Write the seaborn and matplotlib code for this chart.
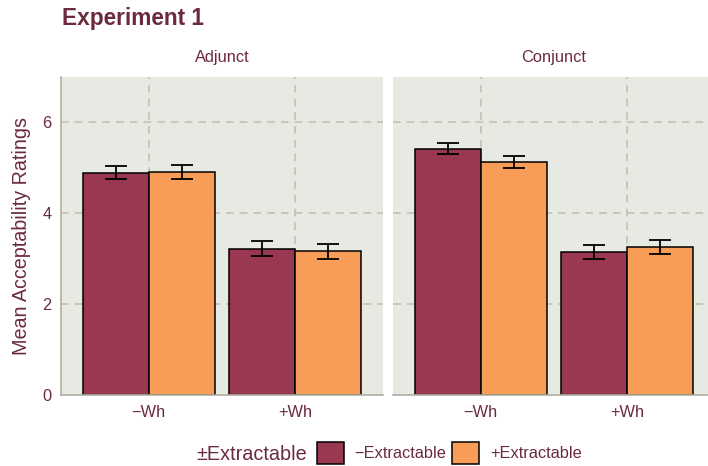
import numpy as np
import pandas as pd
import matplotlib
matplotlib.use('Agg')
import matplotlib.pyplot as plt
from matplotlib.patches import Patch
import seaborn as sns

# data
constructs = ['Adjunct', 'Conjunct']
wh_levels = ['\u2212Wh', '+Wh']
ext_levels = ['\u2212Extractable', '+Extractable']
means_adjunct = [4.89, 4.91, 3.22, 3.16]   # (-Wh,-Ext), (-Wh,+Ext), (+Wh,-Ext), (+Wh,+Ext)
means_conjunct = [5.42, 5.13, 3.15, 3.26]
se_adjunct = [0.14, 0.15, 0.17, 0.16]
se_conjunct = [0.12, 0.13, 0.15, 0.15]

rows = []
for c, m, s in [('Adjunct', means_adjunct, se_adjunct), ('Conjunct', means_conjunct, se_conjunct)]:
    k = 0
    for w in wh_levels:
        for e in ext_levels:
            rows.append({'construct': c, 'wh': w, 'extract': e, 'mean': m[k], 'se': s[k]})
            k += 1
df = pd.DataFrame(rows)

maroon = '#6B2B3D'
grid_col = '#BFBDB1'
axis_col = '#B3B0A3'
bg = '#E7E9E3'
palette = {'\u2212Extractable': '#993850', '+Extractable': '#F89D58'}

sns.set_style('white')
plt.rcParams['font.family'] = ['Liberation Sans', 'DejaVu Sans']

W, H = 708, 466
fig = plt.figure(figsize=(W / 100, H / 100), dpi=100)
pw = 322 / W
ph = (395 - 77) / H
bottom = 1 - 395 / H
ax1 = fig.add_axes([61 / W, bottom, pw, ph])
ax2 = fig.add_axes([393 / W, bottom, pw, ph])

for ax, c in zip([ax1, ax2], constructs):
    sub = df[df['construct'] == c]
    ax.set_facecolor(bg)
    sns.barplot(data=sub, x='wh', y='mean', hue='extract', order=wh_levels,
                hue_order=ext_levels, palette=palette, saturation=1, width=0.9, gap=0,
                edgecolor='black', linewidth=1.1, errorbar=None, legend=False, ax=ax)
    ax.set_axisbelow(True)
    ax.grid(True, axis='both', linestyle=(0, (5, 4)), color=grid_col, linewidth=1.1)
    # error bars on the bar centres
    for i, e in enumerate(ext_levels):
        for j, w in enumerate(wh_levels):
            p = ax.patches[i * len(wh_levels) + j]
            r = sub[(sub['wh'] == w) & (sub['extract'] == e)].iloc[0]
            ax.errorbar(p.get_x() + p.get_width() / 2, r['mean'], yerr=r['se'],
                        color='black', capsize=8, elinewidth=1.3, capthick=1.3, zorder=5)
    ax.set_xlim(-0.6, 1.6)
    ax.set_ylim(0, 7)
    ax.set_yticks([0, 2, 4, 6])
    ax.set_xlabel('')
    ax.set_ylabel('')
    for s in ['top', 'right']:
        ax.spines[s].set_visible(False)
    ax.spines['bottom'].set_color(axis_col)
    ax.spines['bottom'].set_linewidth(1.2)
    ax.spines['left'].set_color(axis_col)
    ax.spines['left'].set_linewidth(1.2)
    ax.tick_params(axis='both', colors=axis_col, length=4, width=1.1,
                   labelcolor=maroon, labelsize=11.8, pad=3)
    ax.text(0.5, 1 + 19 / 318, c, transform=ax.transAxes, ha='center', va='center',
            color=maroon, fontsize=11.8)

ax2.spines['left'].set_visible(False)
ax2.tick_params(axis='y', left=False, labelleft=False)

fig.text(62 / W, 1 - 18 / H, 'Experiment 1', fontsize=16.3, fontweight='bold',
         color=maroon, ha='left', va='center')
fig.text(22 / W, 1 - 236 / H, 'Mean Acceptability Ratings', rotation=90,
         fontsize=14.2, color=maroon, ha='center', va='center')

fig.text(196 / W, 1 - 454 / H, '\u00b1Extractable', fontsize=14.3, color=maroon,
         ha='left', va='center')
handles = [Patch(facecolor=palette[e], edgecolor='black', linewidth=1.1) for e in ext_levels]
leg = fig.legend(handles, ext_levels, ncol=2, loc='center left',
                 bbox_to_anchor=(317 / W, 1 - 453 / H), frameon=False,
                 fontsize=11.8, handlelength=1.65, handleheight=1.65,
                 handletextpad=0.65, columnspacing=0.35, borderpad=0, borderaxespad=0)
for t in leg.get_texts():
    t.set_color(maroon)

fig.savefig('out.png', dpi=100)
